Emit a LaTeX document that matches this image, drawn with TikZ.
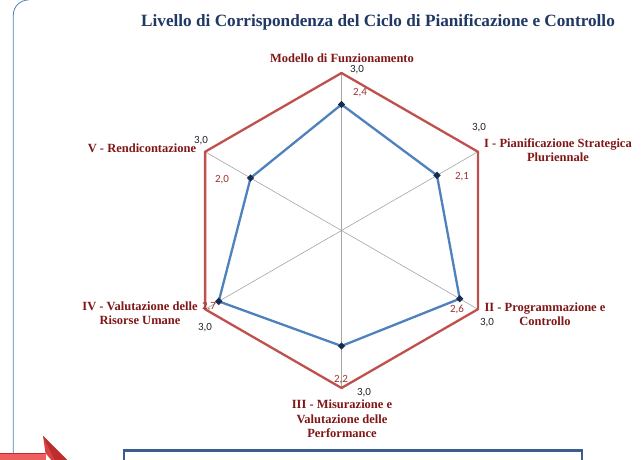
\documentclass[tikz,border=0pt]{standalone}
\usepackage{fontspec}
\setmainfont{Liberation Serif}
\newfontfamily\lblfont{Carlito}
\usetikzlibrary{calc,shapes.geometric}
\definecolor{titleblue}{RGB}{31,56,100}
\definecolor{catred}{RGB}{128,22,22}
\definecolor{outred}{RGB}{192,80,77}
\definecolor{inblue}{RGB}{79,129,189}
\definecolor{mkblue}{RGB}{23,45,80}
\definecolor{vallab}{RGB}{160,52,45}
\definecolor{maxlab}{RGB}{35,35,45}
\definecolor{framebl}{RGB}{79,129,189}
\definecolor{boxbl}{RGB}{59,94,143}
\definecolor{spoke}{RGB}{165,165,165}
\definecolor{arrlight}{RGB}{240,95,95}
\definecolor{arrmid}{RGB}{215,65,65}
\definecolor{arrdark}{RGB}{190,45,45}
\tikzset{
  cat/.style={text=catred, font=\fontsize{12.5}{14.5}\selectfont\bfseries, align=center, inner sep=0},
  maxl/.style={text=maxlab, font=\lblfont\fontsize{11}{12}\selectfont, inner sep=0},
  vall/.style={text=vallab, font=\lblfont\fontsize{11}{12}\selectfont, inner sep=0},
  mk/.style={diamond, fill=mkblue, minimum size=7.5pt, inner sep=0},
  spokeline/.style={spoke, line width=0.6pt},
}
\begin{document}
\begin{tikzpicture}[x=1pt,y=1pt]
\useasboundingbox (0,0) rectangle (642,460);
\clip (0,0) rectangle (642,460);
\fill[white] (0,0) rectangle (642,460);

% outer frame
\draw[framebl, line width=0.8pt] (13.3,0) -- (13.3,445) arc (180:90:15);

% title
\node[text=titleblue, font=\fontsize{17.2}{20}\selectfont\bfseries, inner sep=0] (title) at (378,438)
  {Livello di Corrispondenza del Ciclo di Pianificazione e Controllo};

% radar geometry
\coordinate (C) at (341.5,229.5);
\foreach \i/\a in {0/90,1/30,2/-30,3/-90,4/-150,5/150}{
  \coordinate (o\i) at ($(C)+(\a:157.5)$);
}
\foreach \i/\a/\r in {0/90/126,1/30/110.25,2/-30/136.5,3/-90/115.5,4/-150/141.75,5/150/105}{
  \coordinate (v\i) at ($(C)+(\a:\r)$);
}
\foreach \i in {0,...,5}{ \draw[spokeline] (C) -- (o\i); }

\draw[outred, line width=2.3pt, line join=round] (o0) -- (o1) -- (o2) -- (o3) -- (o4) -- (o5) -- cycle;
\draw[inblue, line width=2.3pt, line join=round] (v0) -- (v1) -- (v2) -- (v3) -- (v4) -- (v5) -- cycle;
\foreach \i in {0,...,5}{ \node[mk] (m\i) at (v\i) {}; }

% data labels
\node[maxl] (lmax0) at (357,390) {3,0};
\node[vall] (lval0) at (360,367) {2,4};
\node[maxl] (lmax1) at (479,332) {3,0};
\node[vall] (lval1) at (462,283) {2,1};
\node[maxl] (lmax2) at (487,137) {3,0};
\node[vall] (lval2) at (457,151) {2,6};
\node[maxl] (lmax3) at (364,67) {3,0};
\node[vall] (lval3) at (341,80) {2,2};
\node[maxl] (lmax4) at (205,132) {3,0};
\node[vall] (lval4) at (209,153) {2,7};
\node[maxl] (lmax5) at (201,319) {3,0};
\node[vall] (lval5) at (222,280) {2,0};

% category labels
\node[cat] (c0) at (342,402) {Modello di Funzionamento};
\node[cat] (c1) at (558,310) {I - Pianificazione Strategica\\Pluriennale};
\node[cat] (c2) at (545,146) {II - Programmazione e\\Controllo};
\node[cat] (c3) at (342,41) {III - Misurazione e\\Valutazione delle\\Performance};
\node[cat] (c4) at (140,147) {IV - Valutazione delle\\Risorse Umane};
\node[cat] (c5) at (142,312) {V - Rendicontazione};

% bottom box
\draw[boxbl, line width=2.5pt, fill=white] (124,-10) rectangle (582,9.5);

% red arrow fragment
\fill[arrlight] (0,-1) -- (0,7) -- (46,7) -- (46,-1) -- cycle;
\draw[arrdark, line width=0.8pt] (0,7) -- (45,7);
\fill[arrmid] (43,24) -- (45.5,7) -- (52,-1) -- (68,-1) -- cycle;
\fill[arrdark] (43,24) -- (50,17) -- (68,-1) -- (55,-1) -- cycle;
\end{tikzpicture}
\end{document}
